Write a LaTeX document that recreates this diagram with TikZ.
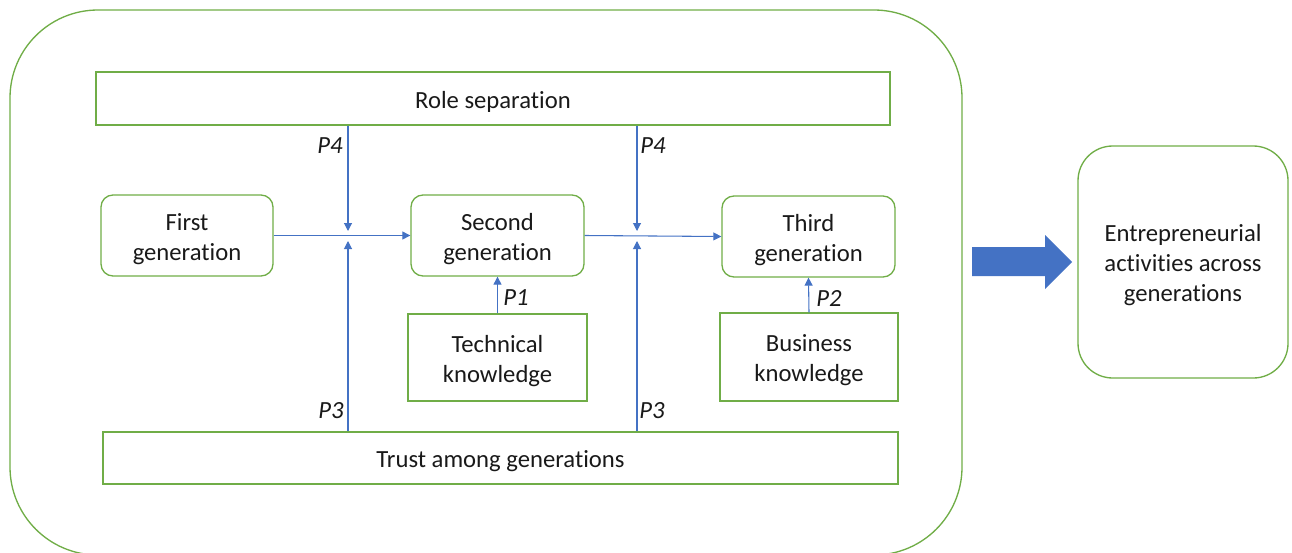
\documentclass[tikz,border=0pt]{standalone}
\usepackage{fontspec}
\setmainfont{Carlito}[Ligatures=NoCommon]
\usetikzlibrary{fit,arrows.meta}
\definecolor{leaf}{RGB}{112,173,71}
\definecolor{azure}{RGB}{68,114,196}
\definecolor{ink}{RGB}{25,25,25}
\tikzset{
  box/.style={draw=leaf, line width=1pt, inner sep=0pt},
  roundbox/.style={box, rounded corners=9pt},
  txt/.style={align=center, text=ink, inner sep=0pt, yshift=-2.5pt,
    font=\fontsize{18.5pt}{22.5pt}\selectfont},
  conn/.style={draw=azure, line width=0.8pt, -{Triangle[length=6pt,width=6pt]}},
  plabel/.style={text=ink, font=\fontsize{18.5pt}{22.5pt}\selectfont\itshape, inner sep=0pt}
}
\begin{document}
\begin{tikzpicture}[x=0.75pt,y=-0.75pt]
\useasboundingbox (0,0) rectangle (1292,553);
\clip (0,0) rectangle (1292,553);
% enclosing frame
\draw[leaf, line width=1pt, rounded corners=66pt] (10,10) rectangle (962,555);

% moderating bands
\node[box, fit={(96,72) (890,125)}] (role) {};
\node[txt] (roleT) at (role.center) {Role separation};
\node[box, fit={(103,432) (898,484)}] (trust) {};
\node[txt] (trustT) at (trust.center) {Trust among generations};

% generations
\node[roundbox, fit={(101,195) (273,276)}] (g1) {};
\node[txt] (g1T) at (g1.center) {First\\generation};
\node[roundbox, fit={(411,195) (584,276)}] (g2) {};
\node[txt] (g2T) at (g2.center) {Second\\generation};
\node[roundbox, fit={(722,196) (895,277)}] (g3) {};
\node[txt] (g3T) at (g3.center) {Third\\generation};

% knowledge inputs
\node[box, fit={(408,314) (587,401)}] (tech) {};
\node[txt] (techT) at (tech.center) {Technical\\knowledge};
\node[box, fit={(720,313) (898,401)}] (bus) {};
\node[txt] (busT) at (bus.center) {Business\\knowledge};

% outcome
\node[box, rounded corners=26pt, fit={(1078,146) (1288,378)}] (out) {};
\node[txt] (outT) at (out.center) {Entrepreneurial\\activities across\\generations};

% succession flow
\draw[conn] (g1.east) -- (g2.west);
\draw[conn] (g2.east) -- (g3.west);

% moderation arrows onto the succession flow
\coordinate (a1) at (348,231);
\coordinate (b1) at (348,241);
\coordinate (a2) at (637,231);
\coordinate (b2) at (637,241);
\draw[conn] (role.south -| a1) -- (a1);
\draw[conn] (trust.north -| b1) -- (b1);
\draw[conn] (role.south -| a2) -- (a2);
\draw[conn] (trust.north -| b2) -- (b2);

% knowledge arrows
\draw[conn] (tech.north) -- (g2.south);
\draw[conn] (bus.north) -- (g3.south);

% proposition labels
\node[plabel] (p4a) at (330,146) {P4};
\node[plabel] (p4b) at (653,146) {P4};
\node[plabel] (p1) at (516,298) {P1};
\node[plabel] (p2) at (829,298) {P2};
\node[plabel] (p3a) at (331,411) {P3};
\node[plabel] (p3b) at (652,411) {P3};

% block arrow towards the outcome
\fill[azure] (972,247) -- (1045,247) -- (1045,235) -- (1072,262) -- (1045,289)
  -- (1045,276) -- (972,276) -- cycle;
\end{tikzpicture}
\end{document}
